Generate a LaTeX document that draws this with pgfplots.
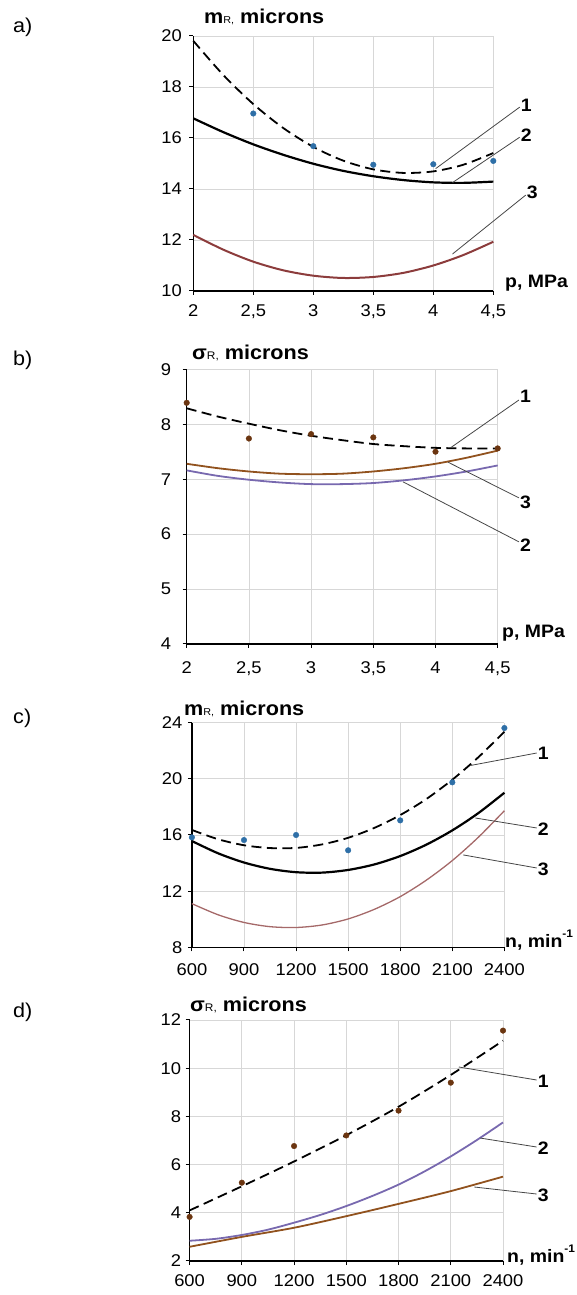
\documentclass[border=0pt]{standalone}
\usepackage{fontspec}
\setmainfont{Liberation Sans}[FakeStretch=1.08]
\usepackage{pgfplots}
\pgfplotsset{compat=1.18}
\definecolor{gridgray}{RGB}{215,215,215}
\definecolor{ptblue}{RGB}{46,111,167}
\definecolor{ptbrown}{RGB}{107,53,16}
\definecolor{redbrown}{RGB}{140,60,60}
\definecolor{pinkbrown}{RGB}{165,105,105}
\definecolor{orbrown}{RGB}{145,82,30}
\definecolor{lpurple}{RGB}{120,105,175}
\definecolor{leadgray}{RGB}{70,70,70}
\pgfplotsset{
  panel/.style={
    scale only axis,
    axis x line=bottom, axis y line=left,
    axis line style={-, line width=1.4pt, black},
    grid=major, major grid style={line width=0.8pt, gridgray},
    tick align=outside, major tick length=4pt,
    tick style={black, line width=1pt},
    ticklabel style={font=\fontsize{17}{17}\selectfont},
    /pgf/number format/assume math mode=true,
    clip=false,
  },
  dashcurve/.style={black, line width=1.8pt, dash pattern=on 10pt off 5.5pt, smooth},
  pts/.style={only marks, mark=*, mark size=2.8pt},
}
\tikzset{
  leader/.style={leadgray, line width=0.8pt},
  num/.style={font=\fontsize{18}{18}\selectfont\bfseries, anchor=west, inner sep=1pt},
  ttl/.style={font=\fontsize{20}{20}\selectfont\bfseries, anchor=west, inner sep=0pt},
  xl/.style={font=\fontsize{18}{18}\selectfont\bfseries, anchor=west, inner sep=0pt},
  pl/.style={font=\fontsize{20}{20}\selectfont, anchor=west, inner sep=0pt},
}
\begin{document}
\begin{tikzpicture}
\useasboundingbox (0,0) rectangle (576pt,1295pt);

% ---------------- a)
\begin{axis}[panel, at={(193.3pt,1004pt)}, anchor=south west,
  width=300pt, height=255pt,
  xmin=2, xmax=4.5, ymin=10, ymax=20,
  xtick={2,2.5,3,3.5,4,4.5}, xticklabels={2,{2,5},3,{3,5},4,{4,5}},
  ytick={10,12,14,16,18,20},
  xticklabel shift=6pt, yticklabel shift=4pt]
\addplot[dashcurve] coordinates {(2,19.81)(2.25,18.47)(2.5,17.33)(2.75,16.39)(3,15.65)(3.25,15.11)(3.5,14.77)(3.75,14.63)(4,14.69)(4.25,14.95)(4.5,15.41)};
\addplot[black, line width=2.2pt, smooth] coordinates {(2,16.77)(2.25,16.23)(2.5,15.75)(2.75,15.34)(3,14.99)(3.25,14.71)(3.5,14.50)(3.75,14.35)(4,14.26)(4.25,14.24)(4.5,14.29)};
\addplot[redbrown, line width=2pt, smooth] coordinates {(2,12.20)(2.25,11.62)(2.5,11.15)(2.75,10.81)(3,10.60)(3.25,10.51)(3.5,10.55)(3.75,10.71)(4,11.00)(4.25,11.41)(4.5,11.93)};
\addplot[pts, ptblue] coordinates {(2.5,16.96)(3,15.68)(3.5,14.95)(4,14.97)(4.5,15.10)};
\draw[leader] (axis cs:4.02,14.80) -- (axis cs:4.72,17.21);
\node[num] at (axis cs:4.72,17.30) {1};
\draw[leader] (axis cs:4.16,14.25) -- (axis cs:4.72,16.03);
\node[num] at (axis cs:4.72,16.12) {2};
\draw[leader] (axis cs:4.16,11.45) -- (axis cs:4.77,13.76);
\node[num] at (axis cs:4.77,13.85) {3};
\end{axis}

% ---------------- b)
\begin{axis}[panel, at={(186.7pt,651pt)}, anchor=south west,
  width=311pt, height=274.7pt,
  xmin=2, xmax=4.5, ymin=4, ymax=9,
  xtick={2,2.5,3,3.5,4,4.5}, xticklabels={2,{2,5},3,{3,5},4,{4,5}},
  ytick={4,5,6,7,8,9},
  xticklabel shift=10pt, yticklabel shift=8pt]
\addplot[dashcurve] coordinates {(2,8.29)(2.25,8.14)(2.5,8.01)(2.75,7.89)(3,7.79)(3.25,7.71)(3.5,7.64)(3.75,7.60)(4,7.57)(4.25,7.56)(4.5,7.56)};
\addplot[lpurple, line width=1.8pt, smooth] coordinates {(2,7.16)(2.25,7.06)(2.5,6.99)(2.75,6.94)(3,6.91)(3.25,6.91)(3.5,6.93)(3.75,6.98)(4,7.05)(4.25,7.14)(4.5,7.25)};
\addplot[orbrown, line width=1.8pt, smooth] coordinates {(2,7.28)(2.25,7.20)(2.5,7.14)(2.75,7.10)(3,7.09)(3.25,7.10)(3.5,7.14)(3.75,7.20)(4,7.28)(4.25,7.39)(4.5,7.52)};
\addplot[pts, ptbrown] coordinates {(2,8.39)(2.5,7.74)(3,7.82)(3.5,7.76)(4,7.50)(4.5,7.56)};
\draw[leader] (axis cs:4.12,7.57) -- (axis cs:4.67,8.44);
\node[num] at (axis cs:4.67,8.50) {1};
\draw[leader] (axis cs:4.10,7.31) -- (axis cs:4.67,6.66);
\node[num] at (axis cs:4.67,6.58) {3};
\draw[leader] (axis cs:3.74,6.95) -- (axis cs:4.67,5.86);
\node[num] at (axis cs:4.67,5.80) {2};
\end{axis}

% ---------------- c)
\begin{axis}[panel, at={(191.9pt,347.7pt)}, anchor=south west,
  width=312.5pt, height=224.6pt,
  xmin=600, xmax=2400, ymin=8, ymax=24,
  xtick={600,900,1200,1500,1800,2100,2400},
  ytick={8,12,16,20,24},
  /pgf/number format/set thousands separator={},
  xticklabel shift=9pt, yticklabel shift=2pt]
\addplot[dashcurve] coordinates {(600,16.36)(750,15.70)(900,15.27)(1050,15.07)(1200,15.08)(1350,15.33)(1500,15.80)(1650,16.50)(1800,17.42)(1950,18.56)(2100,19.94)(2250,21.54)(2400,23.36)};
\addplot[black, line width=2.2pt, smooth] coordinates {(600,15.57)(750,14.70)(900,14.04)(1050,13.59)(1200,13.35)(1350,13.32)(1500,13.51)(1650,13.90)(1800,14.50)(1950,15.31)(2100,16.33)(2250,17.56)(2400,19.01)};
\addplot[pinkbrown, line width=1.3pt, smooth] coordinates {(600,11.11)(750,10.32)(900,9.77)(1050,9.47)(1200,9.41)(1350,9.59)(1500,10.02)(1650,10.70)(1800,11.61)(1950,12.78)(2100,14.18)(2250,15.84)(2400,17.73)};
\addplot[pts, ptblue] coordinates {(600,15.83)(900,15.64)(1200,16.0)(1500,14.91)(1800,17.04)(2100,19.75)(2400,23.62)};
\draw[leader] (axis cs:2204,20.95) -- (axis cs:2586,21.84);
\node[num] at (axis cs:2586,21.84) {1};
\draw[leader] (axis cs:2233,17.21) -- (axis cs:2586,16.50);
\node[num] at (axis cs:2586,16.40) {2};
\draw[leader] (axis cs:2163,14.58) -- (axis cs:2586,13.65);
\node[num] at (axis cs:2586,13.55) {3};
\end{axis}

% ---------------- d)
\begin{axis}[panel, at={(189.6pt,34pt)}, anchor=south west,
  width=313.4pt, height=241pt,
  xmin=600, xmax=2400, ymin=2, ymax=12,
  xtick={600,900,1200,1500,1800,2100,2400},
  ytick={2,4,6,8,10,12},
  /pgf/number format/set thousands separator={},
  xticklabel shift=6pt, yticklabel shift=1pt]
\addplot[dashcurve] coordinates {(600,4.10)(900,5.10)(1200,6.13)(1500,7.22)(1800,8.40)(2100,9.72)(2400,11.14)};
\addplot[lpurple, line width=1.8pt, smooth] coordinates {(600,2.84)(750,2.92)(900,3.08)(1050,3.30)(1200,3.59)(1350,3.91)(1500,4.28)(1650,4.70)(1800,5.17)(1950,5.72)(2100,6.34)(2250,7.02)(2400,7.75)};
\addplot[orbrown, line width=1.8pt, smooth] coordinates {(600,2.59)(900,3.00)(1200,3.38)(1500,3.86)(1800,4.37)(2100,4.90)(2400,5.50)};
\addplot[pts, ptbrown] coordinates {(600,3.83)(900,5.25)(1200,6.77)(1500,7.21)(1800,8.24)(2100,9.40)(2400,11.56)};
\draw[leader] (axis cs:2146,10.05) -- (axis cs:2593,9.51);
\node[num] at (axis cs:2593,9.45) {1};
\draw[leader] (axis cs:2270,7.10) -- (axis cs:2593,6.73);
\node[num] at (axis cs:2593,6.67) {2};
\draw[leader] (axis cs:2235,5.07) -- (axis cs:2593,4.78);
\node[num] at (axis cs:2593,4.72) {3};
\end{axis}

% titles and labels
\node[pl] at (13pt,1268pt) {a)};
\node[pl] at (13pt,935pt) {b)};
\node[pl] at (13pt,577pt) {c)};
\node[pl] at (13pt,283pt) {d)};

\node[ttl] at (204pt,1278pt) {m{\fontsize{10}{10}\selectfont\mdseries R,} microns};
\node[ttl] at (192pt,942pt) {σ{\fontsize{11}{11}\selectfont\mdseries R,} microns};
\node[ttl] at (184pt,586pt) {m{\fontsize{10}{10}\selectfont\mdseries R,} microns};
\node[ttl] at (190pt,290pt) {σ{\fontsize{11}{11}\selectfont\mdseries R,} microns};

\node[xl] at (505pt,1012pt) {p, MPa};
\node[xl] at (502pt,662pt) {p, MPa};
\node[xl] at (505pt,355pt) {n, min\raisebox{0.55em}{\fontsize{11}{11}\selectfont -1}};
\node[xl] at (507pt,40pt) {n, min\raisebox{0.55em}{\fontsize{11}{11}\selectfont -1}};
\end{tikzpicture}
\end{document}
